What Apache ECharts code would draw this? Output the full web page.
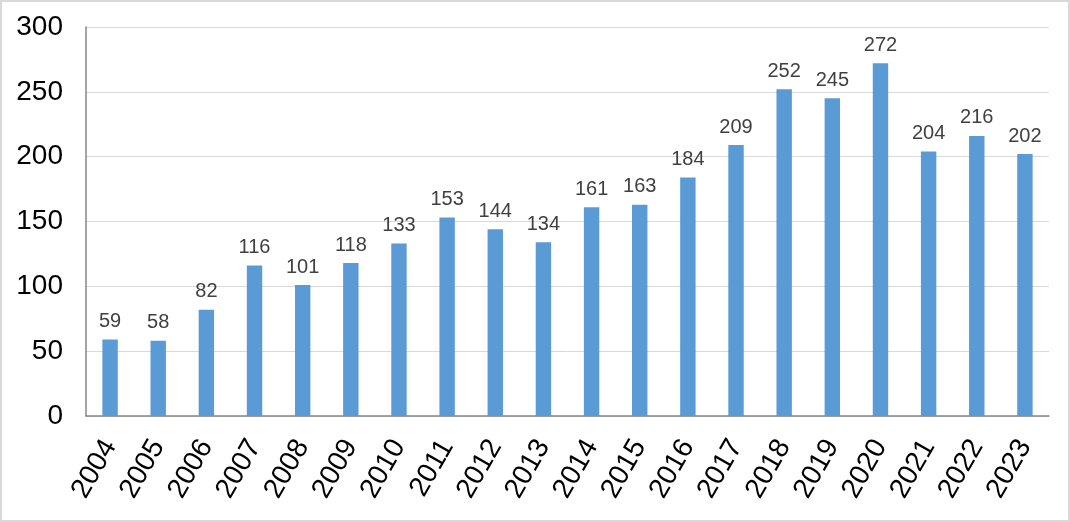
<!DOCTYPE html>
<html><head><meta charset="utf-8">
<script src="https://cdn.jsdelivr.net/npm/echarts@6/dist/echarts.min.js"></script>
<style>
html,body{margin:0;padding:0;background:#fff;}
#wrap{position:absolute;left:0;top:0;width:1070px;height:522px;box-sizing:border-box;border:2px solid #d9d9d9;background:#fff;}
#c{position:absolute;left:0;top:0;width:1066px;height:518px;}
</style></head>
<body><div id="wrap"><div id="c"></div></div>
<script>
const years = ['2004','2005','2006','2007','2008','2009','2010','2011','2012','2013','2014','2015','2016','2017','2018','2019','2020','2021','2022','2023'];
const values = [59,58,82,116,101,118,133,153,144,134,161,163,184,209,252,245,272,204,216,202];
const chart = echarts.init(document.getElementById('c'));
chart.setOption({
  animation:false,
  grid:{left:84,right:19,top:25,bottom:104,containLabel:false},
  xAxis:{type:'category',data:years,
    axisLine:{lineStyle:{color:'#868686',width:1.5}},
    axisTick:{show:false},
    axisLabel:{rotate:60,fontSize:28,color:'#000',fontFamily:'Liberation Sans, Arial',margin:26,interval:0}
  },
  yAxis:{type:'value',min:0,max:300,interval:50,
    axisLine:{show:true,lineStyle:{color:'#868686',width:1.5}},
    axisTick:{show:false},
    splitLine:{lineStyle:{color:'#d9d9d9',width:1}},
    axisLabel:{fontSize:28,color:'#000',fontFamily:'Liberation Sans, Arial',margin:23}
  },
  series:[{type:'bar',data:values,barWidth:'32%',itemStyle:{color:'#5b9bd5'},
    label:{show:true,position:'top',fontSize:20,color:'#404040',fontFamily:'Liberation Sans, Arial',distance:8}}]
});
</script></body></html>
